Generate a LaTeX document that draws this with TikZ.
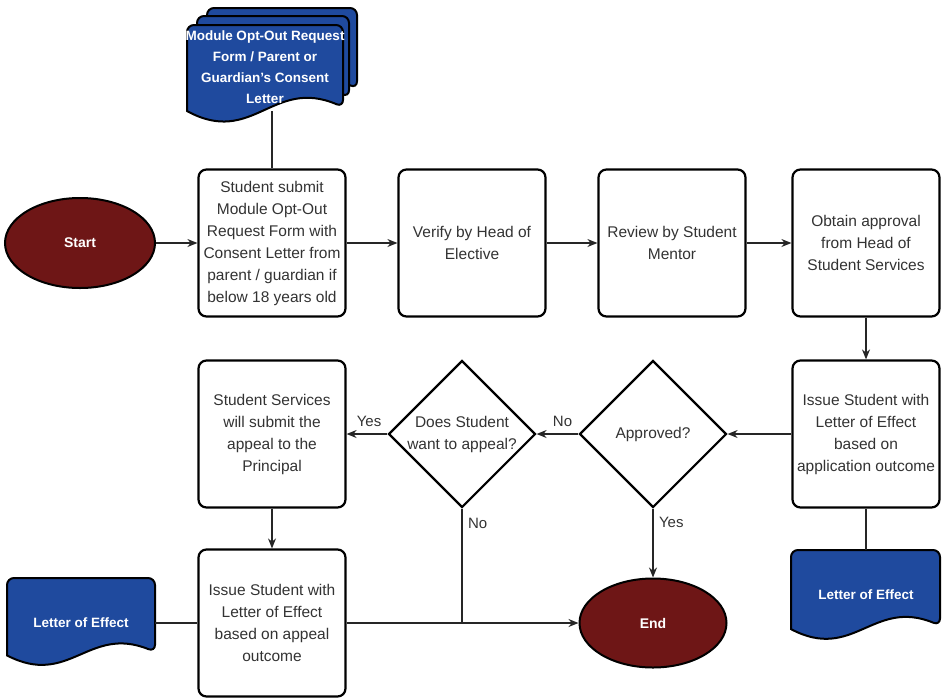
\documentclass[tikz,border=0pt]{standalone}
\usepackage{fontspec}
\setmainfont{Liberation Sans}
\usetikzlibrary{shapes.geometric,arrows.meta}
\definecolor{endred}{HTML}{6E1616}
\definecolor{docblue}{HTML}{1F4A9E}
\newcommand{\docpath}[4]{%
  \filldraw[docblue,draw=black,line width=2pt,rounded corners=7pt]
    ({#1},{#2+0.86*#4}) -- ({#1},{#2}) -- ({#1+#3},{#2}) -- ({#1+#3},{#2+0.82*#4})
    [sharp corners] .. controls ({#1+0.55*#3},{#2+0.52*#4}) and ({#1+0.42*#3},{#2+1.22*#4}) .. ({#1},{#2+0.86*#4}) -- cycle;}
\begin{document}
\begin{tikzpicture}[x=1pt,y=-1pt,
  every node/.style={font=\fontsize{15.5}{22}\selectfont},
  box/.style={rectangle,rounded corners=8pt,draw=black,line width=2.2pt,fill=white,
    minimum width=147pt,minimum height=147pt,align=center,inner sep=0pt,text=black!80},
  term/.style={ellipse,draw=black,line width=2pt,fill=endred,minimum width=150pt,
    minimum height=90pt,text=white,font=\fontsize{14}{18}\selectfont\bfseries},
  dec/.style={diamond,draw=black,line width=2.2pt,fill=white,minimum width=147pt,
    minimum height=147pt,inner sep=0pt},
  dectext/.style={align=center,text=black!80},
  doctext/.style={align=center,text=white,font=\fontsize{13.5}{21}\selectfont\bfseries,inner sep=0pt},
  line/.style={line width=1.4pt,black!85},
  arr/.style={line,-{Stealth[length=10pt,width=8pt]}},
  lbl/.style={text=black!80,font=\fontsize{15}{18}\selectfont}]
\useasboundingbox (0,0) rectangle (945,697);
% documents
\docpath{207}{8}{150}{98}
\docpath{197}{16}{152}{99}
\docpath{187}{25}{156}{100}
\node[doctext,minimum width=156pt,minimum height=88pt] (formdoc) at (265,67)
  {Module Opt-Out Request\\Form / Parent or\\Guardian's Consent\\Letter};
\docpath{7}{578}{148}{90}
\node[doctext,minimum width=148pt] (loeleft) at (81,623) {Letter of Effect};
\docpath{791}{550}{149}{92}
\node[doctext,minimum width=149pt,minimum height=90pt] (loeright) at (866,595) {Letter of Effect};
% main nodes
\node[term] (start) at (80,243) {Start};
\node[box] (b1) at (272,243) {Student submit\\Module Opt-Out\\Request Form with\\Consent Letter from\\parent / guardian if\\below 18 years old};
\node[box] (b2) at (472,243) {Verify by Head of\\Elective};
\node[box] (b3) at (672,243) {Review by Student\\Mentor};
\node[box] (b4) at (866,243) {Obtain approval\\from Head of\\Student Services};
\node[box] (b5) at (866,434) {Issue Student with\\Letter of Effect\\based on\\application outcome};
\node[dec] (appr) at (653,434) {};
\node[dectext] (apprt) at (653,434) {Approved?};
\node[dec] (appeal) at (462,434) {};
\node[dectext] (appealt) at (462,434) {Does Student\\want to appeal?};
\node[box] (b6) at (272,434) {Student Services\\will submit the\\appeal to the\\Principal};
\node[box] (b7) at (272,623) {Issue Student with\\Letter of Effect\\based on appeal\\outcome};
\node[term,minimum width=147pt,minimum height=89pt] (endn) at (653,623) {End};
\coordinate (j) at (appeal.south |- endn.west);
% connectors
\draw[line] (b1.north) -- (b1.north |- formdoc.south);
\draw[arr] (start) -- (b1);
\draw[arr] (b1) -- (b2);
\draw[arr] (b2) -- (b3);
\draw[arr] (b3) -- (b4);
\draw[arr] (b4) -- (b5);
\draw[line] (b5.south) -- (b5.south |- loeright.north);
\draw[arr] (b5.west) -- (appr.east);
\draw[arr] (appr.west) -- node[lbl,pos=0.38,above=3pt]{No} (appeal.east);
\draw[arr] (appeal.west) -- node[lbl,pos=0.45,above=3pt]{Yes} (b6.east);
\draw[arr] (appr.south) -- node[lbl,pos=0.2,right=2pt]{Yes} (endn.north);
\draw[line] (appeal.south) -- node[lbl,pos=0.13,right=2pt]{No} (j);
\draw[arr] (b6) -- (b7);
\draw[arr] (b7.east) -- (endn.west);
\draw[line] (loeleft.east) -- (b7.west);
\end{tikzpicture}
\end{document}
